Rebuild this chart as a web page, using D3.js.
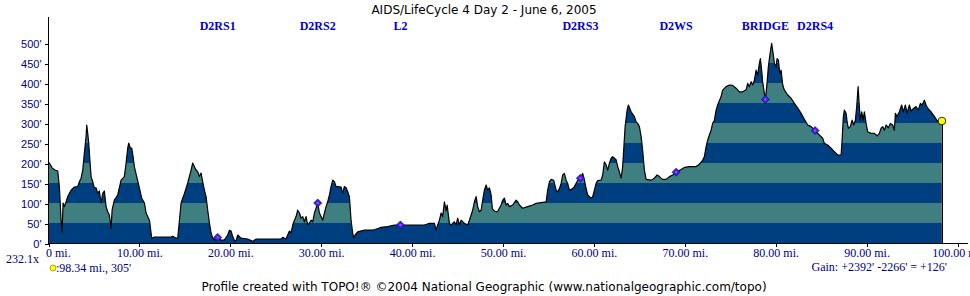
<!DOCTYPE html>
<html>
<head>
<meta charset="utf-8">
<script src="https://cdn.jsdelivr.net/npm/d3@7"></script>
<style>
  body { margin: 0; background: #fff; }
  svg { display: block; }
</style>
</head>
<body>
<svg id="chart" width="970" height="296"></svg>
<script>
// profile samples (miles, feet)
const miles = [0, 0.15, 0.48, 0.81, 1.07, 1.25, 1.44, 1.55, 1.66, 1.8, 1.99, 2.17, 2.54, 2.9, 3.27, 3.45, 3.64, 3.82, 4, 4.19, 4.26, 4.37, 4.48, 4.63, 4.74, 4.92, 5.1, 5.29, 5.47, 5.65, 5.84, 6.02, 6.2, 6.39, 6.57, 6.75, 6.94, 7.05, 7.3, 7.67, 8.04, 8.4, 8.59, 8.77, 8.88, 9.06, 9.21, 9.36, 9.5, 9.8, 10.05, 10.31, 10.61, 10.79, 11.16, 11.41, 11.71, 12.44, 13.54, 13.72, 14.09, 14.27, 14.46, 14.64, 15.01, 15.37, 15.74, 15.92, 16.22, 16.47, 16.66, 16.84, 17.02, 17.21, 17.39, 17.57, 17.76, 17.94, 18.12, 18.49, 18.67, 19.04, 19.41, 19.77, 19.96, 20.14, 20.32, 20.51, 20.69, 20.87, 21.24, 21.97, 22.52, 22.89, 24.47, 25.64, 25.82, 26.19, 26.37, 26.56, 26.74, 26.92, 27.11, 27.29, 27.47, 27.66, 27.84, 28.02, 28.21, 28.39, 28.57, 28.76, 28.94, 29.12, 29.31, 29.49, 29.67, 29.86, 30.04, 30.22, 30.41, 30.59, 30.77, 30.96, 31.14, 31.32, 31.51, 31.69, 31.87, 32.24, 32.42, 32.6, 32.79, 32.97, 33.16, 33.34, 33.52, 33.63, 33.78, 34.07, 34.81, 35.91, 36.65, 37.37, 38.11, 38.77, 39.21, 41.41, 41.96, 42.51, 42.7, 42.87, 43.06, 43.25, 43.42, 43.61, 43.8, 43.91, 44.16, 44.35, 44.71, 44.9, 45.07, 45.26, 45.45, 45.81, 46.17, 46.36, 46.55, 46.72, 46.91, 47.1, 47.27, 47.46, 47.65, 47.82, 48.01, 48.2, 48.37, 48.56, 48.75, 48.89, 49.11, 49.44, 49.85, 50.02, 50.21, 50.4, 50.57, 50.76, 51.12, 51.5, 51.67, 51.86, 52.22, 52.77, 53.32, 53.69, 54.25, 54.8, 54.97, 55.16, 55.35, 55.63, 55.9, 56.07, 56.26, 56.45, 56.62, 56.81, 57, 57.17, 57.36, 57.72, 57.91, 58.1, 58.27, 58.57, 58.82, 59.01, 59.2, 59.37, 59.75, 59.92, 60.11, 60.3, 60.47, 60.85, 61.02, 61.21, 61.4, 61.57, 61.76, 61.95, 62.12, 62.31, 62.5, 62.67, 62.86, 63.05, 63.22, 63.33, 63.49, 63.71, 63.85, 64.15, 64.51, 64.7, 64.87, 65.06, 65.25, 65.42, 65.61, 65.8, 66.35, 66.71, 67.01, 67.26, 67.62, 68, 68.36, 68.72, 69.1, 69.65, 70.01, 70.56, 71.3, 71.66, 72.03, 72.21, 72.4, 72.57, 72.76, 72.95, 73.12, 73.31, 73.5, 73.67, 74.05, 74.22, 74.6, 74.96, 75.32, 75.7, 76.06, 76.42, 76.8, 76.97, 77.16, 77.35, 77.52, 77.71, 77.9, 78.07, 78.26, 78.37, 78.51, 78.62, 78.81, 78.92, 79.07, 79.25, 79.44, 79.61, 79.77, 79.91, 80.1, 80.21, 80.35, 80.5, 80.65, 80.83, 81.01, 81.38, 81.75, 82.11, 82.48, 82.85, 83.21, 83.58, 83.95, 84.39, 84.86, 85.22, 85.41, 85.77, 86.15, 86.51, 86.88, 87.25, 87.36, 87.5, 87.61, 87.8, 87.91, 88.05, 88.27, 88.46, 88.64, 88.82, 88.97, 89.12, 89.23, 89.37, 89.52, 89.67, 89.81, 90, 90.17, 90.55, 90.91, 91.21, 91.46, 91.65, 91.83, 92.01, 92.2, 92.45, 92.67, 92.93, 93.11, 93.22, 93.41, 93.66, 93.91, 94.1, 94.32, 94.51, 94.76, 94.95, 95.24, 95.5, 95.75, 95.97, 96.16, 96.41, 96.6, 96.78, 97.15, 97.52, 97.82, 98.07, 98.34];
const elevations = [195, 200, 187, 182, 180, 141, 57, 28, 100, 91, 103, 116, 132, 140, 141, 153, 162, 182, 225, 266, 295, 274, 250, 200, 166, 153, 138, 138, 124, 130, 100, 124, 130, 91, 78, 70, 37, 82, 107, 120, 157, 166, 200, 237, 250, 237, 237, 216, 191, 162, 138, 112, 100, 75, 57, 12, 15, 15, 15, 17, 12, 12, 57, 100, 124, 150, 182, 200, 185, 178, 166, 175, 153, 132, 116, 82, 50, 25, 12, 7, 14, 7, 8, 20, 32, 30, 16, 6, 5, 20, 12, 10, 4, 10, 10, 10, 14, 10, 20, 30, 25, 45, 57, 66, 82, 75, 62, 66, 53, 66, 45, 50, 57, 53, 75, 87, 100, 75, 66, 57, 75, 91, 103, 120, 141, 157, 153, 141, 141, 140, 124, 141, 138, 128, 116, 57, 25, 12, 20, 28, 32, 33, 39, 41, 45, 45, 45, 45, 49, 49, 32, 45, 57, 75, 66, 103, 80, 95, 49, 45, 53, 45, 62, 45, 57, 49, 45, 57, 70, 82, 103, 116, 91, 78, 82, 107, 132, 145, 132, 138, 120, 85, 80, 78, 95, 107, 112, 95, 99, 91, 95, 107, 103, 95, 87, 91, 95, 99, 101, 103, 132, 153, 159, 157, 132, 128, 136, 149, 170, 174, 157, 149, 132, 136, 141, 149, 157, 162, 174, 157, 136, 120, 112, 116, 132, 149, 156, 157, 170, 203, 195, 182, 199, 212, 216, 212, 208, 191, 178, 162, 191, 232, 291, 332, 345, 328, 316, 303, 299, 291, 266, 232, 182, 159, 157, 162, 170, 166, 159, 159, 166, 170, 177, 184, 189, 191, 191, 197, 207, 216, 241, 257, 270, 282, 299, 307, 332, 345, 366, 382, 391, 395, 394, 387, 378, 378, 383, 399, 391, 403, 395, 407, 432, 420, 449, 461, 432, 403, 374, 359, 391, 441, 474, 499, 474, 449, 441, 461, 457, 424, 432, 395, 382, 370, 362, 349, 337, 324, 309, 295, 291, 281, 270, 262, 249, 245, 237, 228, 220, 220, 257, 316, 332, 324, 303, 287, 291, 307, 295, 307, 341, 391, 349, 307, 328, 307, 328, 299, 278, 274, 274, 268, 274, 287, 291, 282, 295, 288, 299, 295, 282, 324, 316, 328, 345, 328, 345, 324, 345, 330, 337, 341, 332, 349, 345, 357, 345, 337, 328, 316, 306, 303, 305];

// waypoints along the route
const waypointNames = ["D2RS1", "D2RS2", "L2", "D2RS3", "D2WS", "BRIDGE", "D2RS4"];
const waypointMiles = [18.67, 29.67, 38.77, 58.57, 69.1, 78.92, 84.39];
const waypointElev = [14, 100, 45, 162, 177, 359, 281];

// axis ticks
const mileTicks = [0, 10, 20, 30, 40, 50, 60, 70, 80, 90, 100];
const elevTicks = [0, 50, 100, 150, 200, 250, 300, 350, 400, 450, 500];

const svg = d3.select("#chart");

// scales
const xScale = d3.scaleLinear().domain([0, 100]).range([48, 957]);
const yScale = d3.scaleLinear().domain([0, 500]).range([243, 43]);

const profile = miles.map((m, i) => ({ mile: m, elev: elevations[i] }));
const last = profile[profile.length - 1];

// clip the stripes to the area under the profile
const area = d3
  .area()
  .x((d) => xScale(d.mile))
  .y0(yScale(0))
  .y1((d) => yScale(d.elev));

svg
  .append("defs")
  .append("clipPath")
  .attr("id", "profile-clip")
  .append("path")
  .attr("d", area(profile));

// 50' stripes, dark blue and teal
const bands = d3.range(0, 500, 50);
svg
  .append("g")
  .attr("clip-path", "url(#profile-clip)")
  .selectAll("rect")
  .data(bands)
  .enter()
  .append("rect")
  .attr("x", xScale(0))
  .attr("width", xScale(last.mile) - xScale(0))
  .attr("y", (d) => yScale(d + 50))
  .attr("height", (d) => yScale(d) - yScale(d + 50))
  .attr("fill", (d, i) => (i % 2 === 0 ? "#003f7f" : "#3f7f7f"))
  .attr("shape-rendering", "crispEdges");

// profile outline
const line = d3
  .line()
  .x((d) => xScale(d.mile))
  .y((d) => yScale(d.elev));

svg
  .append("path")
  .attr("d", line(profile))
  .attr("fill", "none")
  .attr("stroke", "#000")
  .attr("stroke-width", 1.2)
  .attr("stroke-linejoin", "round");

// closing edge at the end of the route
svg
  .append("line")
  .attr("x1", xScale(last.mile) + 0.5)
  .attr("x2", xScale(last.mile) + 0.5)
  .attr("y1", yScale(last.elev))
  .attr("y2", yScale(0))
  .attr("stroke", "#000")
  .attr("shape-rendering", "crispEdges");

// axis lines
svg
  .append("line")
  .attr("x1", 48.5)
  .attr("x2", 48.5)
  .attr("y1", 17)
  .attr("y2", 244)
  .attr("stroke", "#000")
  .attr("shape-rendering", "crispEdges");
svg
  .append("line")
  .attr("x1", 48)
  .attr("x2", 968)
  .attr("y1", 243.5)
  .attr("y2", 243.5)
  .attr("stroke", "#000")
  .attr("shape-rendering", "crispEdges");

// y axis ticks and labels
const yAxis = d3
  .axisLeft(yScale)
  .tickValues(elevTicks)
  .tickSize(4)
  .tickPadding(3)
  .tickFormat((d) => d + "'");
const yAxisG = svg
  .append("g")
  .attr("transform", "translate(48.5,0.5)")
  .call(yAxis)
  .call((g) => g.select(".domain").remove());
yAxisG.selectAll("line").attr("stroke", "#000").attr("shape-rendering", "crispEdges");
yAxisG
  .selectAll("text")
  .attr("fill", "#000080")
  .attr("font-family", "Liberation Sans, Arial, sans-serif")
  .attr("font-size", "11px");

// x axis ticks and labels
const xAxis = d3
  .axisBottom(xScale)
  .tickValues(mileTicks)
  .tickSize(3)
  .tickPadding(2)
  .tickFormat((d) => (d === 0 ? "0 mi." : d.toFixed(2) + " mi."));
const xAxisG = svg
  .append("g")
  .attr("transform", "translate(0.5,243.5)")
  .call(xAxis)
  .call((g) => g.select(".domain").remove());
xAxisG.selectAll("line").attr("stroke", "#000").attr("shape-rendering", "crispEdges");
xAxisG
  .selectAll("text")
  .attr("fill", "#000080")
  .attr("font-family", "Liberation Serif, Times New Roman, serif")
  .attr("font-size", "12px")
  .attr("text-anchor", (d) => (d === 0 ? "start" : "middle"))
  .attr("dx", (d) => (d === 0 ? -3 : 0));

// waypoint markers
const wp = waypointNames.map((name, i) => ({
  name,
  mile: waypointMiles[i],
  elev: waypointElev[i],
}));
const wpG = svg
  .append("g")
  .selectAll("g")
  .data(wp)
  .enter()
  .append("g")
  .attr("transform", (d) => `translate(${xScale(d.mile)},${yScale(d.elev)})`);
wpG
  .append("path")
  .attr("d", "M0,-4L4,0L0,4L-4,0Z")
  .attr("fill", "#2a2ae8")
  .attr("stroke", "#1010a0")
  .attr("stroke-width", 0.8);
wpG
  .append("rect")
  .attr("x", -1)
  .attr("y", -1)
  .attr("width", 2)
  .attr("height", 2)
  .attr("fill", "#ff30c0");

// waypoint labels along the top
svg
  .append("g")
  .selectAll("text")
  .data(wp)
  .enter()
  .append("text")
  .attr("x", (d) => xScale(d.mile))
  .attr("y", 30)
  .attr("text-anchor", "middle")
  .attr("font-family", "Liberation Serif, Times New Roman, serif")
  .attr("font-weight", "bold")
  .attr("font-size", "12px")
  .attr("fill", "#0000cc")
  .text((d) => d.name);

// end of route marker
svg
  .append("circle")
  .attr("cx", xScale(last.mile))
  .attr("cy", yScale(last.elev))
  .attr("r", 3.8)
  .attr("fill", "#ffff00")
  .attr("stroke", "#000")
  .attr("stroke-width", 0.8);

// title
svg
  .append("text")
  .attr("x", 484)
  .attr("y", 14)
  .attr("text-anchor", "middle")
  .attr("font-family", "DejaVu Sans, Verdana, sans-serif")
  .attr("font-size", "12px")
  .attr("fill", "#000")
  .text("AIDS/LifeCycle 4 Day 2 - June 6, 2005");

// bottom notes
const serif = "Liberation Serif, Times New Roman, serif";
svg
  .append("text")
  .attr("x", 6)
  .attr("y", 263)
  .attr("font-family", serif)
  .attr("font-size", "12px")
  .attr("fill", "#000080")
  .text("232.1x");

svg
  .append("circle")
  .attr("cx", 53)
  .attr("cy", 268)
  .attr("r", 3)
  .attr("fill", "#ffff00")
  .attr("stroke", "#666600")
  .attr("stroke-width", 0.6);
svg
  .append("text")
  .attr("x", 56)
  .attr("y", 272)
  .attr("font-family", serif)
  .attr("font-size", "12px")
  .attr("fill", "#000080")
  .text(":" + last.mile.toFixed(2) + " mi., " + last.elev + "'");

svg
  .append("text")
  .attr("x", 947)
  .attr("y", 271)
  .attr("text-anchor", "end")
  .attr("font-family", serif)
  .attr("font-size", "12px")
  .attr("fill", "#000080")
  .text("Gain: +2392' -2266' = +126'");

svg
  .append("text")
  .attr("x", 484)
  .attr("y", 291)
  .attr("text-anchor", "middle")
  .attr("font-family", "DejaVu Sans, Verdana, sans-serif")
  .attr("font-size", "12px")
  .attr("fill", "#000")
  .text("Profile created with TOPO!\u00ae \u00a92004 National Geographic (www.nationalgeographic.com/topo)");
</script>
</body>
</html>
